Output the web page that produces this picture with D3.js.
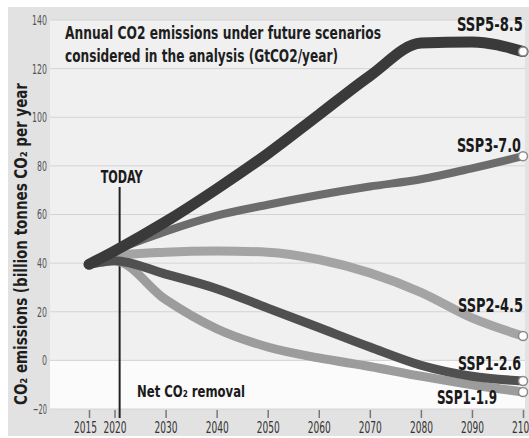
<!DOCTYPE html>
<html><head><meta charset="utf-8">
<script src="https://cdn.jsdelivr.net/npm/d3@7"></script>
<style>
html,body{margin:0;padding:0;background:#fff;}
svg{display:block;}
text{font-family:"Liberation Sans Narrow","DejaVu Sans Condensed","Arial Narrow",sans-serif;}
</style></head><body>
<svg id="chart" width="529" height="438"></svg>
<script>
// ---- data ----
const years = [2015, 2020, 2030, 2040, 2050, 2060, 2070, 2080, 2090, 2100];
const xTickValues = [2015, 2020, 2030, 2040, 2050, 2060, 2070, 2080, 2090, 2100];
const yTickValues = [-20, 0, 20, 40, 60, 80, 100, 120, 140];
const ssp585 = [39.5, 45, 57, 70.5, 85, 101, 117, 130.5, 131, 127];
const ssp370 = [39.5, 45, 53, 59.5, 64, 68, 71.5, 74.5, 79, 84];
const ssp245 = [39.5, 43, 44.5, 45, 44.5, 41.5, 36, 28, 17.5, 10];
const ssp126 = [39.5, 41, 35.5, 29.5, 21.5, 13.5, 5.5, -2, -6.5, -8.5];
const ssp119 = [39.5, 41, 25, 13, 5.5, 1, -2.5, -6.5, -10, -13];
const seriesNames = ["SSP1-1.9", "SSP2-4.5", "SSP1-2.6", "SSP3-7.0", "SSP5-8.5"];
const seriesValues = [ssp119, ssp245, ssp126, ssp370, ssp585];
const todayYear = 2021;
const titleLines = ["Annual CO2 emissions under future scenarios", "considered in the analysis (GtCO2/year)"];
const yTitle = "CO₂ emissions (billion tonnes CO₂ per year";
const todayLabel = "TODAY";
const removalLabel = "Net CO₂ removal";

// ---- styles / layout ----
const styles = {
  "SSP1-1.9": {color: "#9c9c9c", width: 9, lx: 497, ly: 404, lw: 60},
  "SSP2-4.5": {color: "#a4a4a4", width: 9, lx: 523, ly: 312, lw: 65},
  "SSP1-2.6": {color: "#505050", width: 9, lx: 521, ly: 370, lw: 63},
  "SSP3-7.0": {color: "#6c6c6c", width: 8, lx: 521, ly: 152, lw: 64},
  "SSP5-8.5": {color: "#3a3a3a", width: 11, lx: 523, ly: 31, lw: 66}
};

const svg = d3.select("#chart");
const W = 529, H = 438;
const panelL = 50, panelR = 525;

const x = d3.scaleLinear().domain([2015, 2100]).range([89, 523]);
const y = d3.scaleLinear().domain([-20, 140]).range([409, 20]);

// outer background
svg.append("rect").attr("x", 8).attr("y", 7).attr("width", W - 8).attr("height", 429).attr("fill", "#e2e2e2");
// panel (positive)
svg.append("rect").attr("x", panelL).attr("y", y(140)).attr("width", panelR - panelL)
  .attr("height", y(0) - y(140)).attr("fill", "#f0f0f0");
// net removal region
svg.append("rect").attr("x", panelL).attr("y", y(0)).attr("width", panelR - panelL)
  .attr("height", y(-20) - y(0)).attr("fill", "#fbfbfb");

// gridlines
svg.append("g").selectAll("line").data(yTickValues).join("line")
  .attr("x1", panelL).attr("x2", panelR)
  .attr("y1", d => y(d)).attr("y2", d => y(d))
  .attr("stroke", "#d4d4d4").attr("stroke-width", 1);

// y axis
const yAxis = svg.append("g").attr("transform", `translate(${panelL},0)`)
  .call(d3.axisLeft(y).tickValues(yTickValues).tickSize(0).tickPadding(3).tickFormat(d3.format("d")));
yAxis.select(".domain").remove();
yAxis.selectAll("text").attr("font-size", 14).attr("fill", "#555")
  .attr("font-family", "'Liberation Sans Narrow','DejaVu Sans Condensed',sans-serif")
  .attr("textLength", function(d) { return String(d).replace("-", "").length * 5 + (d < 0 ? 4 : 0); })
  .attr("lengthAdjust", "spacingAndGlyphs");

// x axis
const xAxis = svg.append("g").attr("transform", `translate(0,${y(-20) + 1})`)
  .call(d3.axisBottom(x).tickValues(xTickValues).tickSize(8).tickPadding(4).tickFormat(d3.format("d")));
xAxis.select(".domain").remove();
xAxis.selectAll("line").attr("stroke", "#777").attr("stroke-width", 1.5);
xAxis.selectAll("text").attr("font-size", 16).attr("fill", "#333")
  .attr("font-family", "'Liberation Sans Narrow','DejaVu Sans Condensed',sans-serif")
  .attr("dx", d => d === 2015 ? -4 : 0)
  .attr("textLength", 23).attr("lengthAdjust", "spacingAndGlyphs");

// TODAY line
svg.append("line").attr("x1", x(todayYear)).attr("x2", x(todayYear))
  .attr("y1", 187).attr("y2", 418).attr("stroke", "#222").attr("stroke-width", 2);
svg.append("text").attr("x", x(todayYear) + 2).attr("y", 183).attr("text-anchor", "middle")
  .attr("font-size", 17).attr("font-weight", "bold").attr("fill", "#1a1a1a")
  .attr("textLength", 42).attr("lengthAdjust", "spacingAndGlyphs").text(todayLabel);

// Net CO2 removal
svg.append("text").attr("x", 137).attr("y", 397)
  .attr("font-size", 16).attr("font-weight", "bold").attr("fill", "#1a1a1a")
  .attr("textLength", 108).attr("lengthAdjust", "spacingAndGlyphs").text(removalLabel);

// lines
const line = d3.line().x((d, i) => x(years[i])).y(d => y(d)).curve(d3.curveMonotoneX);
seriesNames.forEach((name, k) => {
  const st = styles[name];
  svg.append("path").datum(seriesValues[k])
    .attr("d", line).attr("fill", "none")
    .attr("stroke", st.color).attr("stroke-width", st.width)
    .attr("stroke-linecap", "round").attr("stroke-linejoin", "round");
});
// end markers
seriesNames.forEach((name, k) => {
  const vals = seriesValues[k];
  svg.append("circle").attr("cx", x(years[years.length - 1])).attr("cy", y(vals[vals.length - 1]))
    .attr("r", 4.5).attr("fill", "#fff").attr("stroke", "#8a8a8a").attr("stroke-width", 1.5);
});
// series labels
seriesNames.forEach(name => {
  const st = styles[name];
  svg.append("text").attr("x", st.lx).attr("y", st.ly).attr("text-anchor", "end")
    .attr("font-size", 20).attr("font-weight", "bold").attr("fill", "#1a1a1a")
    .attr("textLength", st.lw).attr("lengthAdjust", "spacingAndGlyphs").text(name);
});

// title
const titleW = [316, 273];
titleLines.forEach((t, i) => {
  svg.append("text").attr("x", 65).attr("y", 39 + i * 23)
    .attr("font-size", 17).attr("font-weight", "bold").attr("fill", "#1e1e1e")
    .attr("textLength", titleW[i]).attr("lengthAdjust", "spacingAndGlyphs").text(t);
});

// y title
svg.append("text").attr("transform", "translate(27,244) rotate(-90)").attr("text-anchor", "middle")
  .attr("font-size", 17).attr("font-weight", "bold").attr("fill", "#1e1e1e")
  .attr("textLength", 322).attr("lengthAdjust", "spacingAndGlyphs").text(yTitle);
</script>
</body></html>
